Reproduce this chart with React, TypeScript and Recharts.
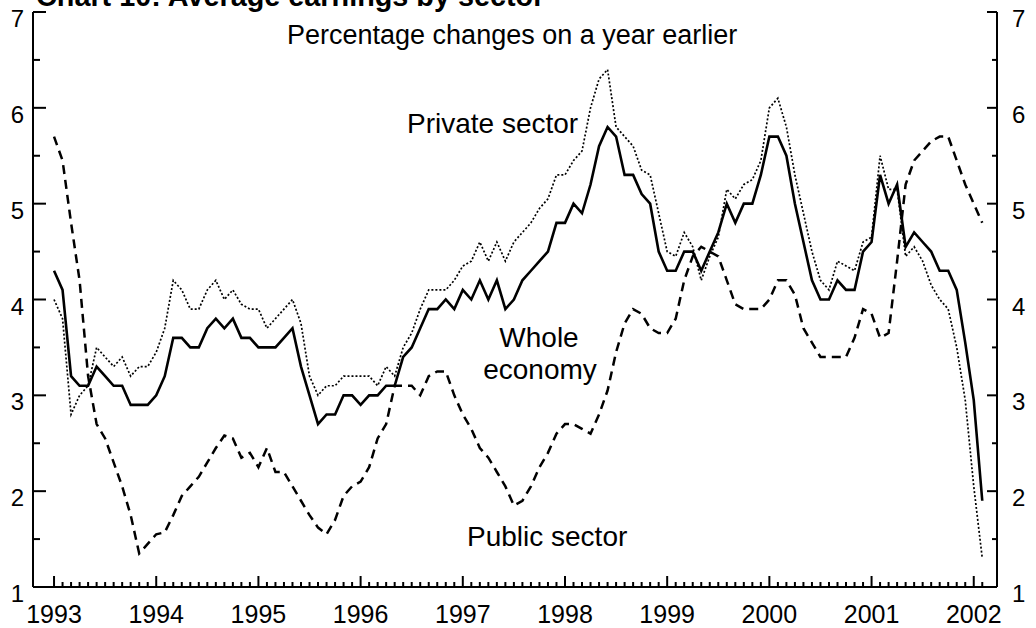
import React from 'react';
import { LineChart, Line, XAxis, YAxis } from 'recharts';

// Monthly data, Jan 1993 (index 0) to Feb 2002 (index 109)
const yearLabels = ['1993', '1994', '1995', '1996', '1997', '1998', '1999', '2000', '2001', '2002'];

const wholeEconomy = [
  4.3, 4.1, 3.2, 3.1, 3.1, 3.3, 3.2, 3.1, 3.1, 2.9, 2.9, 2.9,
  3.0, 3.2, 3.6, 3.6, 3.5, 3.5, 3.7, 3.8, 3.7, 3.8, 3.6, 3.6,
  3.5, 3.5, 3.5, 3.6, 3.7, 3.3, 3.0, 2.7, 2.8, 2.8, 3.0, 3.0,
  2.9, 3.0, 3.0, 3.1, 3.1, 3.4, 3.5, 3.7, 3.9, 3.9, 4.0, 3.9,
  4.1, 4.0, 4.2, 4.0, 4.2, 3.9, 4.0, 4.2, 4.3, 4.4, 4.5, 4.8,
  4.8, 5.0, 4.9, 5.2, 5.6, 5.8, 5.7, 5.3, 5.3, 5.1, 5.0, 4.5,
  4.3, 4.3, 4.5, 4.5, 4.3, 4.5, 4.7, 5.0, 4.8, 5.0, 5.0, 5.3,
  5.7, 5.7, 5.5, 5.0, 4.6, 4.2, 4.0, 4.0, 4.2, 4.1, 4.1, 4.5,
  4.6, 5.3, 5.0, 5.2, 4.55, 4.7, 4.6, 4.5, 4.3, 4.3, 4.1, 3.55,
  2.95, 1.9,
];

const privateSector = [
  4.0, 3.8, 2.8, 3.0, 3.1, 3.5, 3.4, 3.3, 3.4, 3.2, 3.3, 3.3,
  3.45, 3.7, 4.2, 4.1, 3.9, 3.9, 4.1, 4.2, 4.0, 4.1, 3.95, 3.9,
  3.9, 3.7, 3.8, 3.9, 4.0, 3.75, 3.2, 3.0, 3.1, 3.1, 3.2, 3.2,
  3.2, 3.2, 3.1, 3.3, 3.2, 3.5, 3.65, 3.9, 4.1, 4.1, 4.1, 4.2,
  4.35, 4.4, 4.6, 4.4, 4.6, 4.4, 4.6, 4.7, 4.8, 4.95, 5.05, 5.3,
  5.3, 5.45, 5.55, 6.0, 6.3, 6.4, 5.8, 5.7, 5.6, 5.35, 5.3, 4.9,
  4.5, 4.45, 4.7, 4.55, 4.2, 4.45, 4.65, 5.15, 5.05, 5.2, 5.25, 5.45,
  6.0, 6.1, 5.8, 5.3, 4.9, 4.5, 4.2, 4.1, 4.4, 4.35, 4.3, 4.6,
  4.65, 5.5, 5.15, 5.15, 4.45, 4.55, 4.4, 4.15, 4.0, 3.9, 3.5, 2.95,
  2.05, 1.3,
];

const publicSector = [
  5.7, 5.45, 4.8, 4.2, 3.2, 2.7, 2.55, 2.3, 2.05, 1.75, 1.35, 1.45,
  1.55, 1.57, 1.75, 1.95, 2.05, 2.15, 2.3, 2.45, 2.58, 2.55, 2.35, 2.4,
  2.25, 2.45, 2.2, 2.2, 2.05, 1.9, 1.75, 1.62, 1.55, 1.7, 1.95, 2.05,
  2.1, 2.25, 2.55, 2.7, 3.1, 3.1, 3.1, 3.0, 3.2, 3.25, 3.25, 3.0,
  2.8, 2.65, 2.45, 2.35, 2.2, 2.05, 1.85, 1.9, 2.05, 2.25, 2.4, 2.6,
  2.7, 2.7, 2.65, 2.6, 2.8, 3.05, 3.45, 3.75, 3.9, 3.85, 3.7, 3.65,
  3.65, 3.8, 4.2, 4.45, 4.55, 4.5, 4.45, 4.2, 3.95, 3.9, 3.9, 3.9,
  4.0, 4.2, 4.2, 4.05, 3.7, 3.55, 3.4, 3.4, 3.4, 3.4, 3.6, 3.9,
  3.85, 3.6, 3.65, 4.4, 5.2, 5.45, 5.55, 5.65, 5.7, 5.7, 5.45, 5.2,
  5.0, 4.8,
];

const yTicks = [1, 1.5, 2, 2.5, 3, 3.5, 4, 4.5, 5, 5.5, 6, 6.5, 7];
const monthTicks = wholeEconomy.map((_, i) => i);

const data = wholeEconomy.map((v, i) => ({
  m: i,
  whole: v,
  priv: privateSector[i],
  pub: publicSector[i],
}));

const FONT = '"Liberation Sans", Arial, Helvetica, sans-serif';
const X_DOMAIN: [number, number] = [-2.47, 110.73];

const XTick = (props: any) => {
  const { x, y, payload } = props;
  const m = payload.value as number;
  const major = m % 12 === 0;
  return (
    <g>
      <line x1={x} x2={x} y1={y} y2={y - (major ? 11 : 5)} stroke="#000" strokeWidth={2} />
      {major && (
        <text x={x} y={y + 36} textAnchor="middle" fontSize={25} fontFamily={FONT} fill="#000">
          {yearLabels[m / 12]}
        </text>
      )}
    </g>
  );
};

const LeftTick = (props: any) => {
  const { x, y, payload } = props;
  const v = payload.value as number;
  const major = Number.isInteger(v);
  return (
    <g>
      <line x1={x} x2={x + (major ? 13 : 7)} y1={y} y2={y} stroke="#000" strokeWidth={2} />
      {major && (
        <text x={x - 9} y={y + 15} textAnchor="end" fontSize={24} fontFamily={FONT} fill="#000">
          {v}
        </text>
      )}
    </g>
  );
};

const RightTick = (props: any) => {
  const { x, y, payload } = props;
  const v = payload.value as number;
  const major = Number.isInteger(v);
  return (
    <g>
      <line x1={x} x2={x - (major ? 10 : 5)} y1={y} y2={y} stroke="#000" strokeWidth={2} />
      {major && (
        <text x={x + 15} y={y + 15} textAnchor="start" fontSize={24} fontFamily={FONT} fill="#000">
          {v}
        </text>
      )}
    </g>
  );
};

export default function App() {
  return (
    <div style={{ position: 'absolute', left: 0, top: 0, width: 1036, height: 628, background: '#fff' }}>
      <LineChart
        width={1036}
        height={628}
        data={data}
        margin={{ top: 12, right: 0, bottom: 0, left: 0 }}
      >
        <XAxis
          xAxisId="b"
          dataKey="m"
          type="number"
          domain={X_DOMAIN}
          allowDataOverflow
          ticks={monthTicks}
          interval={0}
          height={41}
          tickSize={0}
          tickMargin={0}
          tickLine={false}
          axisLine={{ stroke: '#000', strokeWidth: 2 }}
          tick={<XTick />}
        />
        <XAxis
          xAxisId="t"
          orientation="top"
          type="number"
          domain={X_DOMAIN}
          allowDataOverflow
          height={0}
          tick={false}
          tickLine={false}
          axisLine={{ stroke: '#000', strokeWidth: 2 }}
        />
        <YAxis
          yAxisId="l"
          type="number"
          domain={[1, 7]}
          allowDataOverflow
          ticks={yTicks}
          interval={0}
          width={33}
          tickSize={0}
          tickMargin={0}
          tickLine={false}
          axisLine={{ stroke: '#000', strokeWidth: 2 }}
          tick={<LeftTick />}
        />
        <YAxis
          yAxisId="r"
          orientation="right"
          type="number"
          domain={[1, 7]}
          allowDataOverflow
          ticks={yTicks}
          interval={0}
          width={39}
          tickSize={0}
          tickMargin={0}
          tickLine={false}
          axisLine={{ stroke: '#000', strokeWidth: 2 }}
          tick={<RightTick />}
        />
        <Line
          xAxisId="b"
          yAxisId="l"
          type="linear"
          dataKey="pub"
          stroke="#000"
          strokeWidth={2.5}
          strokeDasharray="9 6"
          dot={false}
          isAnimationActive={false}
        />
        <Line
          xAxisId="b"
          yAxisId="l"
          type="linear"
          dataKey="priv"
          stroke="#000"
          strokeWidth={1.7}
          strokeDasharray="2 2"
          dot={false}
          isAnimationActive={false}
        />
        <Line
          xAxisId="b"
          yAxisId="l"
          type="linear"
          dataKey="whole"
          stroke="#000"
          strokeWidth={2.6}
          dot={false}
          isAnimationActive={false}
        />
      </LineChart>
      <svg
        width={1036}
        height={628}
        style={{ position: 'absolute', left: 0, top: 0, pointerEvents: 'none' }}
        fontFamily={FONT}
        fill="#000"
      >
        <text x={36} y={6} fontSize={28.8} fontWeight="bold">Chart 10: Average earnings by sector</text>
        <text x={287} y={44} fontSize={27}>Percentage changes on a year earlier</text>
        <text x={407} y={133} fontSize={28}>Private sector</text>
        <text x={539} y={347} fontSize={28} textAnchor="middle">Whole</text>
        <text x={540} y={379} fontSize={28} textAnchor="middle">economy</text>
        <text x={467} y={546} fontSize={28}>Public sector</text>
      </svg>
    </div>
  );
}
